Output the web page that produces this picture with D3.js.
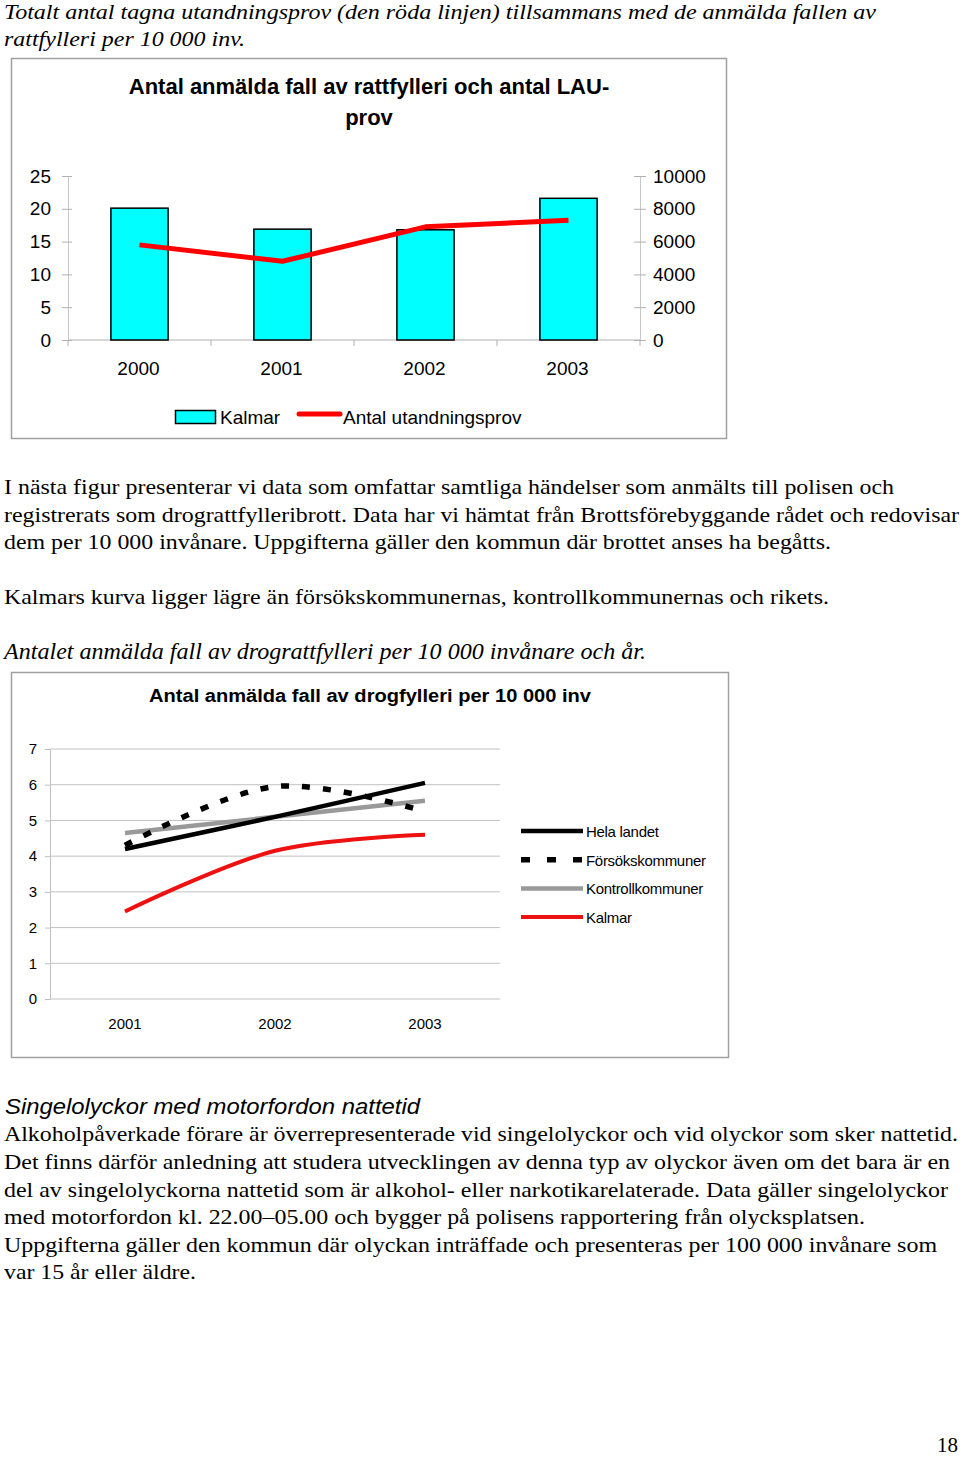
<!DOCTYPE html>
<html><head><meta charset="utf-8">
<script src="https://cdn.jsdelivr.net/npm/d3@7"></script>
<style>html,body{margin:0;padding:0;background:#fff;}svg{display:block;}</style>
</head><body>
<script>
// ---- Chart 1 data ----
const years1 = ["2000","2001","2002","2003"];
const kalmarFall = [20.1, 16.9, 16.8, 21.6];
const utandningsprov = [5800, 4800, 6900, 7300];
const leftTicks1 = [0,5,10,15,20,25];
const rightTicks1 = [0,2000,4000,6000,8000,10000];

// ---- Chart 2 data ----
const years2 = ["2001","2002","2003"];
const helaLandet = [4.2, 5.1, 6.05];
const forsokskommuner = [4.3, 5.95, 5.25];
const kontrollkommuner = [4.65, 5.1, 5.55];
const kalmarDrog = [2.45, 4.15, 4.6];
const yTicks2 = [0,1,2,3,4,5,6,7];
const seriesNames2 = ["Hela landet","Försökskommuner","Kontrollkommuner","Kalmar"];

const svg = d3.select("body").append("svg").attr("width",960).attr("height",1457);
svg.append("rect").attr("width",960).attr("height",1457).attr("fill","#fff");

const serif = "'Liberation Serif','Times New Roman',serif";
const sans = "'Liberation Sans',Arial,sans-serif";
const fmt = d3.format("d");

// ---- body text ----
const texts = [
  {t:"Totalt antal tagna utandningsprov (den röda linjen) tillsammans med de anmälda fallen av", x:4, y:19, w:872, f:serif, s:22, i:true},
  {t:"rattfylleri per 10 000 inv.", x:4, y:46, w:241, f:serif, s:22, i:true},
  {t:"I nästa figur presenterar vi data som omfattar samtliga händelser som anmälts till polisen och", x:4, y:494, w:890, f:serif, s:22},
  {t:"registrerats som drograttfylleribrott. Data har vi hämtat från Brottsförebyggande rådet och redovisar", x:4, y:522, w:955, f:serif, s:22},
  {t:"dem per 10 000 invånare. Uppgifterna gäller den kommun där brottet anses ha begåtts.", x:4, y:549, w:827, f:serif, s:22},
  {t:"Kalmars kurva ligger lägre än försökskommunernas, kontrollkommunernas och rikets.", x:4, y:604, w:825, f:serif, s:22},
  {t:"Antalet anmälda fall av drograttfylleri per 10 000 invånare och år.", x:4, y:659, w:642, f:serif, s:23, i:true},
  {t:"Singelolyckor med motorfordon nattetid", x:5, y:1114, w:415, f:sans, s:22, i:true},
  {t:"Alkoholpåverkade förare är överrepresenterade vid singelolyckor och vid olyckor som sker nattetid.", x:4, y:1141, w:954, f:serif, s:22},
  {t:"Det finns därför anledning att studera utvecklingen av denna typ av olyckor även om det bara är en", x:4, y:1169, w:946, f:serif, s:22},
  {t:"del av singelolyckorna nattetid som är alkohol- eller narkotikarelaterade. Data gäller singelolyckor", x:4, y:1197, w:944, f:serif, s:22},
  {t:"med motorfordon kl. 22.00–05.00 och bygger på polisens rapportering från olycksplatsen.", x:4, y:1224, w:861, f:serif, s:22},
  {t:"Uppgifterna gäller den kommun där olyckan inträffade och presenteras per 100 000 invånare som", x:4, y:1252, w:933, f:serif, s:22},
  {t:"var 15 år eller äldre.", x:4, y:1279, w:192, f:serif, s:22},
  {t:"18", x:937, y:1452, w:21, f:serif, s:21}
];
texts.forEach(d=>{
  svg.append("text").attr("x",d.x).attr("y",d.y).attr("font-family",d.f).attr("font-size",d.s)
    .attr("font-style",d.i?"italic":"normal").attr("textLength",d.w).attr("lengthAdjust","spacingAndGlyphs")
    .attr("fill","#000").text(d.t);
});

// ================= Chart 1 =================
const g1 = svg.append("g");
g1.append("rect").attr("x",11.5).attr("y",58.5).attr("width",715).attr("height",380)
  .attr("fill","#fff").attr("stroke","#a0a0a0").attr("stroke-width",1.5);
g1.append("text").attr("x",369).attr("y",94).attr("text-anchor","middle").attr("font-family",sans)
  .attr("font-weight","bold").attr("font-size",22).text("Antal anmälda fall av rattfylleri och antal LAU-");
g1.append("text").attr("x",369).attr("y",125).attr("text-anchor","middle").attr("font-family",sans)
  .attr("font-weight","bold").attr("font-size",22).text("prov");

const x1 = d3.scaleBand().domain(years1).range([68,640]).paddingInner(0.6).paddingOuter(0.3);
const xc1 = d3.scalePoint().domain(years1).range([68,640]).padding(0.5);
const yL = d3.scaleLinear().domain([0,25]).range([340,176]);
const yR = d3.scaleLinear().domain([0,10000]).range([340,176]);

// axes
const axL = d3.axisLeft(yL).tickValues(leftTicks1).tickFormat(fmt).tickSize(6).tickPadding(11);
const gL = g1.append("g").attr("transform","translate(68,0)").call(axL);
const axR = d3.axisRight(yR).tickValues(rightTicks1).tickFormat(fmt).tickSize(6).tickPadding(7);
const gR = g1.append("g").attr("transform","translate(640,0)").call(axR);
[gL,gR].forEach(g=>{
  g.select(".domain").attr("stroke","#c8c8c8");
  g.selectAll(".tick line").attr("stroke","#b0b0b0");
  g.selectAll(".tick text").attr("font-family",sans).attr("font-size",19).attr("fill","#000");
});
gL.selectAll(".tick line").attr("x1",-6).attr("x2",4);
gR.selectAll(".tick line").attr("x1",-6).attr("x2",6);
// x axis
g1.append("line").attr("x1",68).attr("x2",640).attr("y1",340).attr("y2",340).attr("stroke","#b0b0b0");
const bounds = d3.range(years1.length+1).map(i=>68+i*(572/years1.length));
g1.selectAll(".xt").data(bounds).enter().append("line").attr("x1",d=>d).attr("x2",d=>d)
  .attr("y1",340).attr("y2",346).attr("stroke","#b0b0b0");
g1.selectAll(".xl").data(years1).enter().append("text").attr("x",d=>xc1(d)-1).attr("y",375)
  .attr("text-anchor","middle").attr("font-family",sans).attr("font-size",19).text(d=>d);

// bars
g1.selectAll(".bar").data(years1).enter().append("rect")
  .attr("x",d=>x1(d)).attr("width",x1.bandwidth())
  .attr("y",(d,i)=>yL(kalmarFall[i])).attr("height",(d,i)=>340-yL(kalmarFall[i]))
  .attr("fill","#00ffff").attr("stroke","#000").attr("stroke-width",1.5);
// red line
g1.append("path").datum(years1).attr("fill","none").attr("stroke","#ff0000").attr("stroke-width",5)
  .attr("stroke-linejoin","round")
  .attr("d",d3.line().x(d=>xc1(d)).y((d,i)=>yR(utandningsprov[i])));

// legend
g1.append("rect").attr("x",175.5).attr("y",410.5).attr("width",40).attr("height",13)
  .attr("fill","#00ffff").attr("stroke","#000").attr("stroke-width",1.5);
g1.append("text").attr("x",220).attr("y",424).attr("font-family",sans).attr("font-size",19).text("Kalmar");
g1.append("line").attr("x1",299).attr("x2",340).attr("y1",414).attr("y2",414)
  .attr("stroke","#ff0000").attr("stroke-width",5).attr("stroke-linecap","round");
g1.append("text").attr("x",343).attr("y",424).attr("font-family",sans).attr("font-size",19).text("Antal utandningsprov");

// ================= Chart 2 =================
const g2 = svg.append("g");
g2.append("rect").attr("x",11.5).attr("y",672.5).attr("width",717).attr("height",385)
  .attr("fill","#fff").attr("stroke","#a0a0a0").attr("stroke-width",1.5);
g2.append("text").attr("x",149).attr("y",702).attr("font-family",sans).attr("font-weight","bold")
  .attr("font-size",18).attr("textLength",442).attr("lengthAdjust","spacingAndGlyphs")
  .text("Antal anmälda fall av drogfylleri per 10 000 inv");

const x2 = d3.scalePoint().domain(years2).range([50,500]).padding(0.5);
const y2 = d3.scaleLinear().domain([0,7]).range([999,749]);

g2.selectAll(".grid").data(yTicks2).enter().append("line")
  .attr("x1",50).attr("x2",500).attr("y1",d=>y2(d)).attr("y2",d=>y2(d))
  .attr("stroke","#c0c0c0").attr("stroke-width",1);
const ax2 = d3.axisLeft(y2).tickValues(yTicks2).tickFormat(fmt).tickSize(5).tickPadding(8);
const gA2 = g2.append("g").attr("transform","translate(50,0)").call(ax2);
gA2.select(".domain").attr("stroke","#c0c0c0");
gA2.selectAll(".tick line").attr("stroke","#c0c0c0");
gA2.selectAll(".tick text").attr("font-family",sans).attr("font-size",15).attr("fill","#000");
g2.selectAll(".xl2").data(years2).enter().append("text").attr("x",d=>x2(d)).attr("y",1029)
  .attr("text-anchor","middle").attr("font-family",sans).attr("font-size",15).text(d=>d);

const series2 = [
  {name:seriesNames2[0], vals:helaLandet, color:"#000", w:4.5, dash:null},
  {name:seriesNames2[1], vals:forsokskommuner, color:"#000", w:5.5, dash:"8,13"},
  {name:seriesNames2[2], vals:kontrollkommuner, color:"#999", w:4.5, dash:null},
  {name:seriesNames2[3], vals:kalmarDrog, color:"#ee1111", w:4, dash:null}
];
const line2 = d3.line().curve(d3.curveCatmullRom.alpha(0.5));
[2,0,1,3].forEach(k=>{
  const s = series2[k];
  g2.append("path").attr("fill","none").attr("stroke",s.color).attr("stroke-width",s.w)
    .attr("stroke-dasharray",s.dash).attr("d",line2(years2.map((d,i)=>[x2(d),y2(s.vals[i])])));
});
// legend
series2.forEach((s,i)=>{
  const ly = 831 + i*28.7;
  g2.append("line").attr("x1",521).attr("x2",583).attr("y1",ly).attr("y2",ly)
    .attr("stroke",s.color).attr("stroke-width",s.w).attr("stroke-dasharray",s.dash?"9,17":null);
  g2.append("text").attr("x",586).attr("y",ly+6).attr("font-family",sans).attr("font-size",15)
    .attr("letter-spacing",-0.3).text(s.name);
});
</script>
</body></html>
